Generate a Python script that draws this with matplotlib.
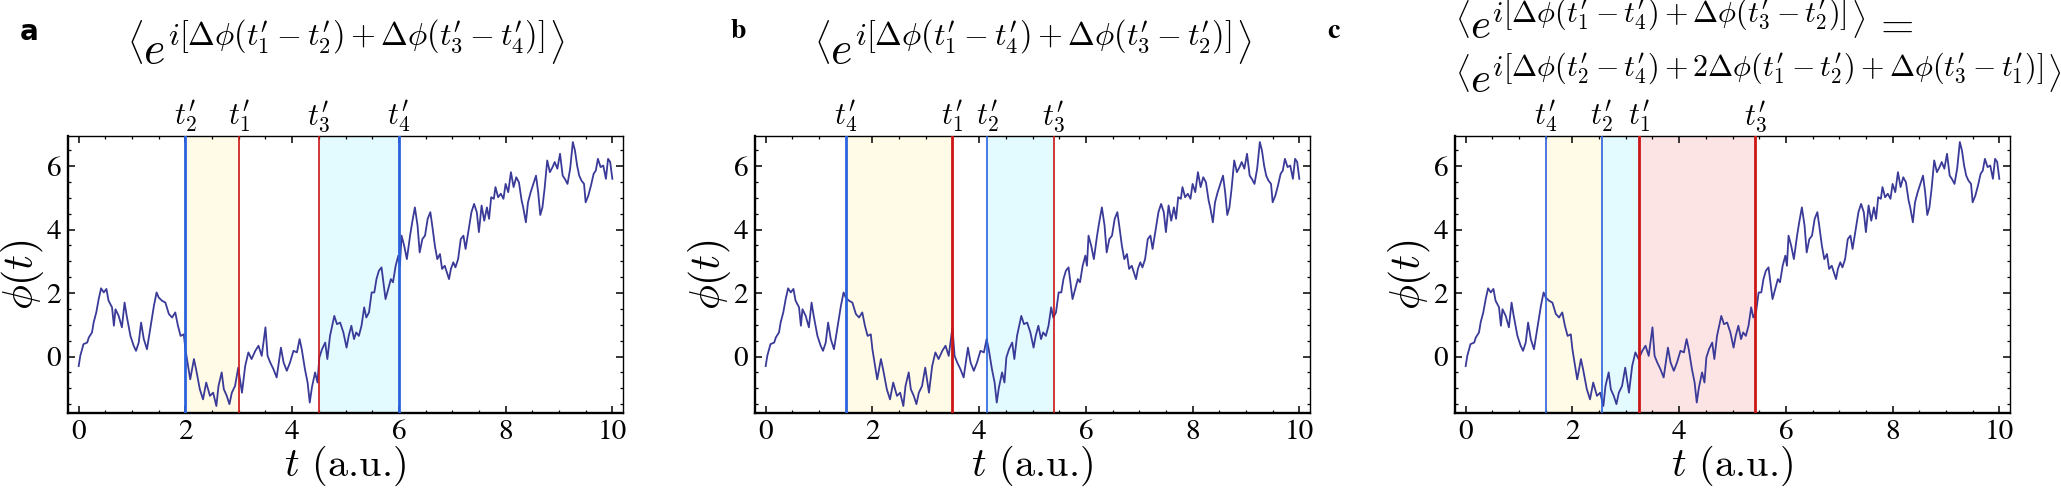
import matplotlib
matplotlib.use("Agg")
import matplotlib.pyplot as plt
import numpy as np
from matplotlib.ticker import MultipleLocator

plt.rcParams["mathtext.fontset"] = "cm"
plt.rcParams["font.family"] = ["STIXGeneral", "DejaVu Serif"]
plt.rcParams["axes.unicode_minus"] = False

W, H = 2061, 491

# phase trajectory (same in all three panels)
t_vals = [0, 0.03, 0.09, 0.16, 0.19, 0.25, 0.28, 0.33, 0.375, 0.42, 0.47, 0.52, 0.56, 0.625, 0.66, 0.69,
          0.75, 0.81, 0.86, 0.9, 0.97, 1.03, 1.075, 1.125, 1.17, 1.22, 1.28, 1.34, 1.41, 1.46, 1.5, 1.56,
          1.625, 1.69, 1.75, 1.81, 1.86, 1.91, 1.97, 2.0, 2.04, 2.09, 2.16, 2.2, 2.27, 2.33, 2.39, 2.46,
          2.52, 2.58, 2.62, 2.68, 2.72, 2.775, 2.825, 2.87, 2.93, 2.99, 3.06, 3.12, 3.18, 3.24, 3.31, 3.37,
          3.43, 3.5, 3.54, 3.59, 3.65, 3.71, 3.79, 3.84, 3.9, 3.96, 4.025, 4.09, 4.14, 4.18, 4.24, 4.29,
          4.33, 4.37, 4.43, 4.475, 4.51, 4.56, 4.62, 4.66, 4.71, 4.79, 4.84, 4.9, 4.96, 5.02, 5.06, 5.11,
          5.16, 5.2, 5.25, 5.3, 5.35, 5.39, 5.44, 5.49, 5.54, 5.58, 5.625, 5.675, 5.71, 5.75, 5.8, 5.85,
          5.89, 5.94, 5.99, 6.02, 6.05, 6.1, 6.15, 6.21, 6.25, 6.3, 6.35, 6.39, 6.44, 6.49, 6.54, 6.59,
          6.625, 6.675, 6.72, 6.77, 6.81, 6.86, 6.9, 6.94, 6.975, 7.02, 7.06, 7.11, 7.16, 7.21, 7.25, 7.3,
          7.36, 7.41, 7.46, 7.5, 7.55, 7.6, 7.65, 7.69, 7.73, 7.78, 7.81, 7.86, 7.91, 7.96, 8.0, 8.05,
          8.1, 8.15, 8.2, 8.25, 8.3, 8.33, 8.38, 8.42, 8.47, 8.52, 8.57, 8.61, 8.65, 8.69, 8.73, 8.78,
          8.83, 8.88, 8.92, 8.97, 9.02, 9.07, 9.11, 9.16, 9.21, 9.26, 9.3, 9.34, 9.38, 9.42, 9.47, 9.5,
          9.55, 9.6, 9.65, 9.69, 9.73, 9.78, 9.83, 9.88, 9.92, 9.96, 10.0]
phi_vals = [-0.3, 0.02, 0.39, 0.44, 0.6, 0.76, 1.07, 1.39, 1.81, 2.15, 2.02, 2.13, 1.76, 1.55, 0.97, 1.49,
            1.28, 0.92, 1.7, 1.28, 0.65, 0.34, 0.18, 0.44, 1.07, 0.55, 0.23, 0.86, 1.6, 2.02, 1.86, 1.76,
            1.7, 1.34, 1.23, 1.39, 0.97, 0.65, 0.7, 0.23, -0.19, -0.72, -0.08, -0.4, -1.03, -1.35, -0.82, -1.24,
            -1.14, -1.56, -0.93, -0.5, -1.03, -1.24, -1.5, -1.14, -0.93, -0.35, -1.14, -0.3, 0.13, -0.08, 0.18, 0.34,
            0.02, 0.92, 0.02, -0.19, -0.4, -0.66, 0.28, -0.19, -0.45, -0.19, 0.18, 0.13, 0.55, 0.23, -0.4, -0.82,
            -1.45, -0.98, -0.5, -0.82, -0.03, 0.23, 0.44, -0.08, 0.65, 1.28, 1.02, 1.07, 0.76, 0.28, 0.65, 0.97,
            0.55, 0.76, 0.65, 0.97, 1.55, 1.23, 1.39, 2.02, 2.02, 2.44, 2.7, 2.81, 2.34, 1.81, 2.13, 2.44,
            2.34, 2.86, 3.18, 2.86, 3.81, 3.49, 3.07, 3.81, 4.23, 4.7, 4.13, 3.28, 3.7, 3.81, 4.34, 4.55,
            4.13, 3.49, 3.07, 3.23, 2.76, 2.86, 2.65, 2.44, 2.76, 2.97, 2.81, 3.07, 3.7, 3.81, 3.39, 3.92,
            4.55, 4.81, 4.55, 3.92, 4.76, 4.28, 4.7, 4.34, 5.02, 4.97, 5.34, 5.02, 5.13, 4.97, 5.44, 5.18,
            5.81, 5.34, 5.65, 5.49, 4.92, 4.7, 4.23, 4.86, 5.18, 5.44, 5.7, 5.18, 4.46, 4.7, 5.28, 6.18,
            5.81, 5.97, 6.13, 5.92, 6.39, 5.7, 5.6, 5.44, 5.92, 6.76, 6.49, 6.02, 5.7, 5.55, 5.44, 4.86,
            5.07, 5.39, 5.76, 5.86, 6.23, 5.97, 6.02, 5.6, 6.23, 6.13, 5.6]
assert len(t_vals) == len(phi_vals), (len(t_vals), len(phi_vals))

panel_letters = ["a", "b", "c"]

# marked times per panel: (label, time, colour, thick)
marks_a = [("2", 2.0, "blue", True), ("1", 3.0, "red", False), ("3", 4.5, "red", False), ("4", 6.0, "blue", True)]
marks_b = [("4", 1.5, "blue", True), ("1", 3.5, "red", True), ("2", 4.15, "blue", False), ("3", 5.4, "red", False)]
marks_c = [("4", 1.5, "blue", False), ("2", 2.55, "blue", False), ("1", 3.25, "red", True), ("3", 5.42, "red", True)]

# shaded intervals per panel: (start, end, kind)
bands_a = [(2.0, 3.0, "yellow"), (4.5, 6.0, "cyan")]
bands_b = [(1.5, 3.5, "yellow"), (4.15, 5.4, "cyan")]
bands_c = [(1.5, 2.55, "yellow"), (2.55, 3.25, "cyan"), (3.25, 5.42, "pink")]

line_colors = {"blue": "#2a62de", "red": "#cc1515"}
band_colors = {"yellow": "#fffbe6", "cyan": "#e3faff", "pink": "#fde4e4"}


def tp(n):
    return r"t^{\prime}_{%s}" % n


title_a = r"$\left\langle e^{i[\Delta\phi(%s-%s)+\Delta\phi(%s-%s)]}\right\rangle$" % (tp(1), tp(2), tp(3), tp(4))
title_b = r"$\left\langle e^{i[\Delta\phi(%s-%s)+\Delta\phi(%s-%s)]}\right\rangle$" % (tp(1), tp(4), tp(3), tp(2))
title_c1 = r"$\left\langle e^{i[\Delta\phi(%s-%s)+\Delta\phi(%s-%s)]}\right\rangle\,=$" % (tp(1), tp(4), tp(3), tp(2))
title_c2 = (r"$\left\langle e^{i[\Delta\phi(%s-%s)+2\Delta\phi(%s-%s)+\Delta\phi(%s-%s)]}\right\rangle$"
            % (tp(2), tp(4), tp(1), tp(2), tp(3), tp(1)))

fig = plt.figure(figsize=(W / 100, H / 100), dpi=100)

ax_left_px = [68, 755, 1455]
letter_px = [20, 731, 1327]
ax_w_px = 555
ax_top_px, ax_bot_px = 136, 413


def fx(px):
    return px / W


def fy(py):
    return 1 - py / H


panels = [(marks_a, bands_a), (marks_b, bands_b), (marks_c, bands_c)]
for k, (marks, bands) in enumerate(panels):
    ax = fig.add_axes([fx(ax_left_px[k]), fy(ax_bot_px), ax_w_px / W, (ax_bot_px - ax_top_px) / H])
    for a, b, kind in bands:
        ax.axvspan(a, b, color=band_colors[kind], lw=0, zorder=0)
    ax.plot(t_vals, phi_vals, color="#3a3a98", lw=1.3, zorder=2)
    for lab, tm, col, thick in marks:
        ax.axvline(tm, color=line_colors[col], lw=2.0 if thick else 1.2, zorder=3)
        ax.text(tm, 1.005, "$" + tp(lab) + "$", transform=ax.get_xaxis_transform(),
                ha="center", va="bottom", fontsize=22)
    ax.set_xlim(-0.2, 10.2)
    ax.set_ylim(-1.78, 6.95)
    ax.xaxis.set_major_locator(MultipleLocator(2))
    ax.xaxis.set_minor_locator(MultipleLocator(0.5))
    ax.yaxis.set_major_locator(MultipleLocator(2))
    ax.yaxis.set_minor_locator(MultipleLocator(0.5))
    ax.tick_params(which="both", direction="in", top=True, right=True, labelsize=21, pad=5)
    ax.tick_params(which="major", length=5, width=1.1)
    ax.tick_params(which="minor", length=2.5, width=0.9)
    for side in ["left", "bottom"]:
        ax.spines[side].set_linewidth(1.7)
    for side in ["top", "right"]:
        ax.spines[side].set_linewidth(1.0)
    ax.set_xlabel(r"$t$ (a.u.)", fontsize=29, labelpad=-1, family="cmr10")
    ax.set_ylabel(r"$\phi(t)$", fontsize=30, labelpad=0)

    fig.text(fx(letter_px[k]), fy(32), panel_letters[k],
             fontsize=20, fontweight="bold", ha="left", va="center",
             family="DejaVu Sans" if k == 0 else "STIXGeneral")

fig.text(fx(ax_left_px[0] + ax_w_px / 2), fy(50), title_a, ha="center", va="center", fontsize=33)
fig.text(fx(ax_left_px[1] + ax_w_px / 2), fy(50), title_b, ha="center", va="center", fontsize=33)
fig.text(fx(ax_left_px[2]), fy(26), title_c1, ha="left", va="center", fontsize=31)
fig.text(fx(ax_left_px[2]), fy(80), title_c2, ha="left", va="center", fontsize=31)

fig.savefig("out.png", dpi=100)
